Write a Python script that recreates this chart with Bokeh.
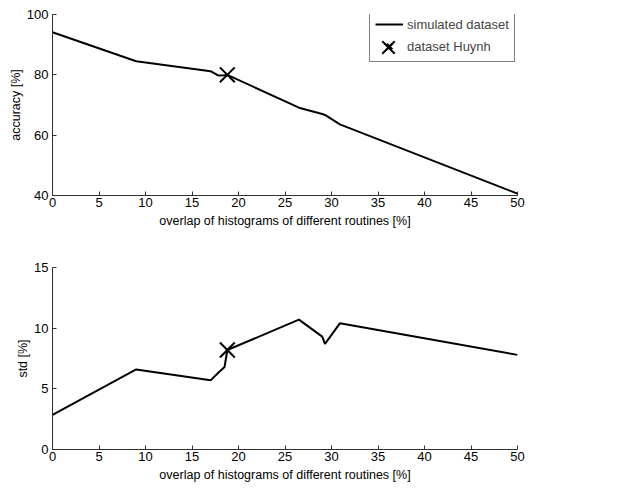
from bokeh.plotting import figure
from bokeh.layouts import column
from bokeh.models import Legend, LegendItem, FixedTicker, Range1d
from bokeh.embed import file_html
from bokeh.resources import INLINE

overlap = [0, 9, 17, 17.8, 18.5, 18.8, 26.5, 29, 29.3, 30.9, 50]
accuracy = [94.1, 84.5, 81.2, 79.8, 79.9, 80.0, 69.1, 67.0, 66.7, 63.6, 40.6]
std = [2.85, 6.6, 5.7, 6.3, 6.8, 8.2, 10.7, 9.3, 8.7, 10.4, 7.8]
huynh_x = [18.8]
huynh_acc = [80.0]
huynh_std = [8.2]
x_ticks = [0, 5, 10, 15, 20, 25, 30, 35, 40, 45, 50]
acc_ticks = [40, 60, 80, 100]
std_ticks = [0, 5, 10, 15]

FONT = "Liberation Sans"
TICK_FS = "13px"
LABEL_FS = "12.5px"


def style(p, xlabel, ylabel, yticks):
    p.xaxis.ticker = FixedTicker(ticks=x_ticks)
    p.yaxis.ticker = FixedTicker(ticks=yticks)
    p.grid.visible = False
    p.outline_line_color = None
    for ax in (p.xaxis[0], p.yaxis[0]):
        ax.major_tick_in = 4
        ax.major_tick_out = 0
        ax.minor_tick_line_color = None
        ax.axis_line_color = "#303030"
        ax.major_tick_line_color = "#303030"
        ax.major_label_text_font = FONT
        ax.major_label_text_font_size = TICK_FS
        ax.major_label_text_color = "black"
        ax.axis_label_text_font = FONT
        ax.axis_label_text_font_size = LABEL_FS
        ax.axis_label_text_font_style = "normal"
        ax.axis_label_text_color = "black"
    p.xaxis.axis_label = xlabel
    p.yaxis.axis_label = ylabel
    p.xaxis.major_label_standoff = 2
    p.xaxis.axis_label_standoff = 4
    p.yaxis.major_label_standoff = 4
    p.yaxis.axis_label_standoff = 1


p1 = figure(width=621, height=244, output_backend="svg", toolbar_location=None,
            x_range=Range1d(0, 50), y_range=Range1d(40, 100),
            min_border_left=52, min_border_right=104, min_border_top=14, min_border_bottom=49)
style(p1, "overlap of histograms of different routines [%]", "accuracy [%]", acc_ticks)
l1 = p1.line(overlap, accuracy, line_color="black", line_width=2)
m1 = p1.scatter(huynh_x, huynh_acc, marker="x", size=21, line_color="black", line_width=2)

# boxed legend with both entries
leg = Legend(items=[LegendItem(label="simulated dataset", renderers=[l1]),
                    LegendItem(label="dataset Huynh", renderers=[m1])],
             location=(317, 133), border_line_color="black", border_line_width=1,
             label_text_font=FONT, label_text_font_size="13px",
             glyph_width=28, glyph_height=20, spacing=2, padding=5, margin=0,
             label_standoff=4, background_fill_alpha=1)
p1.add_layout(leg, "center")
# larger cross drawn over the legend's marker entry
leg_big = Legend(items=[LegendItem(label="", renderers=[m1])],
                 location=(314, 126), border_line_color=None, background_fill_alpha=0,
                 glyph_width=44, glyph_height=44, spacing=0, padding=0, margin=0,
                 label_standoff=0, label_width=0, label_height=0,
                 label_text_font_size="1px")
p1.add_layout(leg_big, "center")

p2 = figure(width=621, height=244, output_backend="svg", toolbar_location=None,
            x_range=Range1d(0, 50), y_range=Range1d(0, 15),
            min_border_left=52, min_border_right=104, min_border_top=23, min_border_bottom=39)
style(p2, "overlap of histograms of different routines [%]", "std [%]", std_ticks)
p2.line(overlap, std, line_color="black", line_width=2)
p2.scatter(huynh_x, huynh_std, marker="x", size=21, line_color="black", line_width=2)

layout = column(p1, p2, spacing=0)
open("out.html", "w").write(file_html(layout, INLINE))
